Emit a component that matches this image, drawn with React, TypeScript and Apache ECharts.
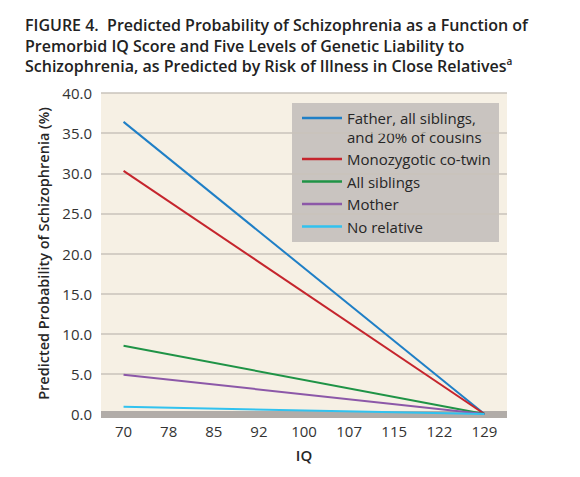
import { useEffect, useRef } from 'react';
import * as echarts from 'echarts';

// IQ categories along the x axis
const iqLabels = ['70', '78', '85', '92', '100', '107', '115', '122', '129'];

// predicted probability (%), only the two ends are drawn
const fatherSiblingsCousins = [36.4, null, null, null, null, null, null, null, 0];
const monozygoticTwin = [30.3, null, null, null, null, null, null, null, 0];
const allSiblings = [8.5, null, null, null, null, null, null, null, 0];
const mother = [4.9, null, null, null, null, null, null, null, 0];
const noRelative = [0.9, null, null, null, null, null, null, null, 0];

const seriesNames = [
    'Father, all siblings,\nand 20% of cousins',
    'Monozygotic co-twin',
    'All siblings',
    'Mother',
    'No relative'
];
const seriesData = [fatherSiblingsCousins, monozygoticTwin, allSiblings, mother, noRelative];
const seriesColors = ['#1f7fc6', '#c5252d', '#1f9346', '#8c58a8', '#31c2ef'];

const FONT = '"Open Sans", sans-serif';

// legend box drawn by hand so the first swatch sits on the first text line
const LEGEND_X = 292;
const LEGEND_Y = 103;
const legendRowY = [15, 56, 78.5, 101, 123.5];

const App = () => {
    const chartRef = useRef<HTMLDivElement>(null);

    useEffect(() => {
        document.body.style.margin = '0';
        const chart = echarts.init(chartRef.current, null, { renderer: 'svg' });

        const legendItems: any[] = [];
        seriesNames.forEach((name, i) => {
            const y = legendRowY[i];
            legendItems.push({
                type: 'line',
                shape: { x1: 10, y1: y, x2: 50, y2: y },
                style: { stroke: seriesColors[i], lineWidth: 2.5 }
            });
            legendItems.push({
                type: 'text',
                x: 55,
                y: y - 9.5,
                style: {
                    text: name,
                    font: '15px "Open Sans", sans-serif',
                    fill: '#262626',
                    lineHeight: 19,
                    verticalAlign: 'top'
                }
            });
        });

        chart.setOption({
            animation: false,
            textStyle: { fontFamily: FONT },
            title: {
                left: 25,
                top: 15,
                padding: 0,
                text: 'FIGURE 4.  Predicted Probability of Schizophrenia as a Function of\nPremorbid IQ Score and Five Levels of Genetic Liability to\nSchizophrenia, as Predicted by Risk of Illness in Close Relatives{sup|a}',
                textStyle: {
                    fontFamily: FONT,
                    fontSize: 16,
                    fontWeight: 600,
                    color: '#222',
                    lineHeight: 20.5,
                    rich: {
                        sup: { fontSize: 10, fontWeight: 600, verticalAlign: 'top', lineHeight: 12, color: '#222' }
                    }
                }
            },
            grid: {
                left: 101,
                right: 73,
                top: 93,
                bottom: 63,
                show: true,
                backgroundColor: '#f6f0e4',
                borderWidth: 0
            },
            graphic: [
                {
                    type: 'group',
                    x: LEGEND_X,
                    y: LEGEND_Y,
                    z: 5,
                    children: [
                        {
                            type: 'rect',
                            shape: { x: 0, y: 0, width: 207, height: 139 },
                            style: { fill: '#c9c4c0' }
                        },
                        ...legendItems
                    ]
                }
            ],
            xAxis: {
                type: 'category',
                data: iqLabels,
                name: 'IQ',
                nameLocation: 'middle',
                nameGap: 33,
                nameTextStyle: { fontFamily: FONT, fontSize: 15, fontWeight: 600, color: '#262626' },
                axisLine: { lineStyle: { color: '#b1aca8', width: 7, cap: 'butt' } },
                axisTick: { show: false },
                axisLabel: { fontSize: 15, color: '#333', margin: 9 },
                splitLine: { show: false }
            },
            yAxis: {
                type: 'value',
                min: 0,
                max: 40,
                interval: 5,
                name: 'Predicted Probability of Schizophrenia (%)',
                nameLocation: 'middle',
                nameGap: 50,
                nameTextStyle: { fontFamily: FONT, fontSize: 14.5, fontWeight: 600, color: '#262626' },
                axisLine: { show: false },
                axisTick: { show: false },
                axisLabel: {
                    fontSize: 15,
                    color: '#333',
                    margin: 9,
                    formatter: (v: number) => v.toFixed(1)
                },
                splitLine: { lineStyle: { color: '#c9c3bb', width: 1.5 } }
            },
            series: seriesNames.map((name, i) => ({
                name,
                type: 'line',
                data: seriesData[i],
                connectNulls: true,
                symbol: 'none',
                color: seriesColors[i],
                lineStyle: { color: seriesColors[i], width: 2 },
                z: 2
            }))
        });

        return () => {
            chart.dispose();
        };
    }, []);

    return <div ref={chartRef} style={{ width: '580px', height: '477px' }} />;
};

export default App;
